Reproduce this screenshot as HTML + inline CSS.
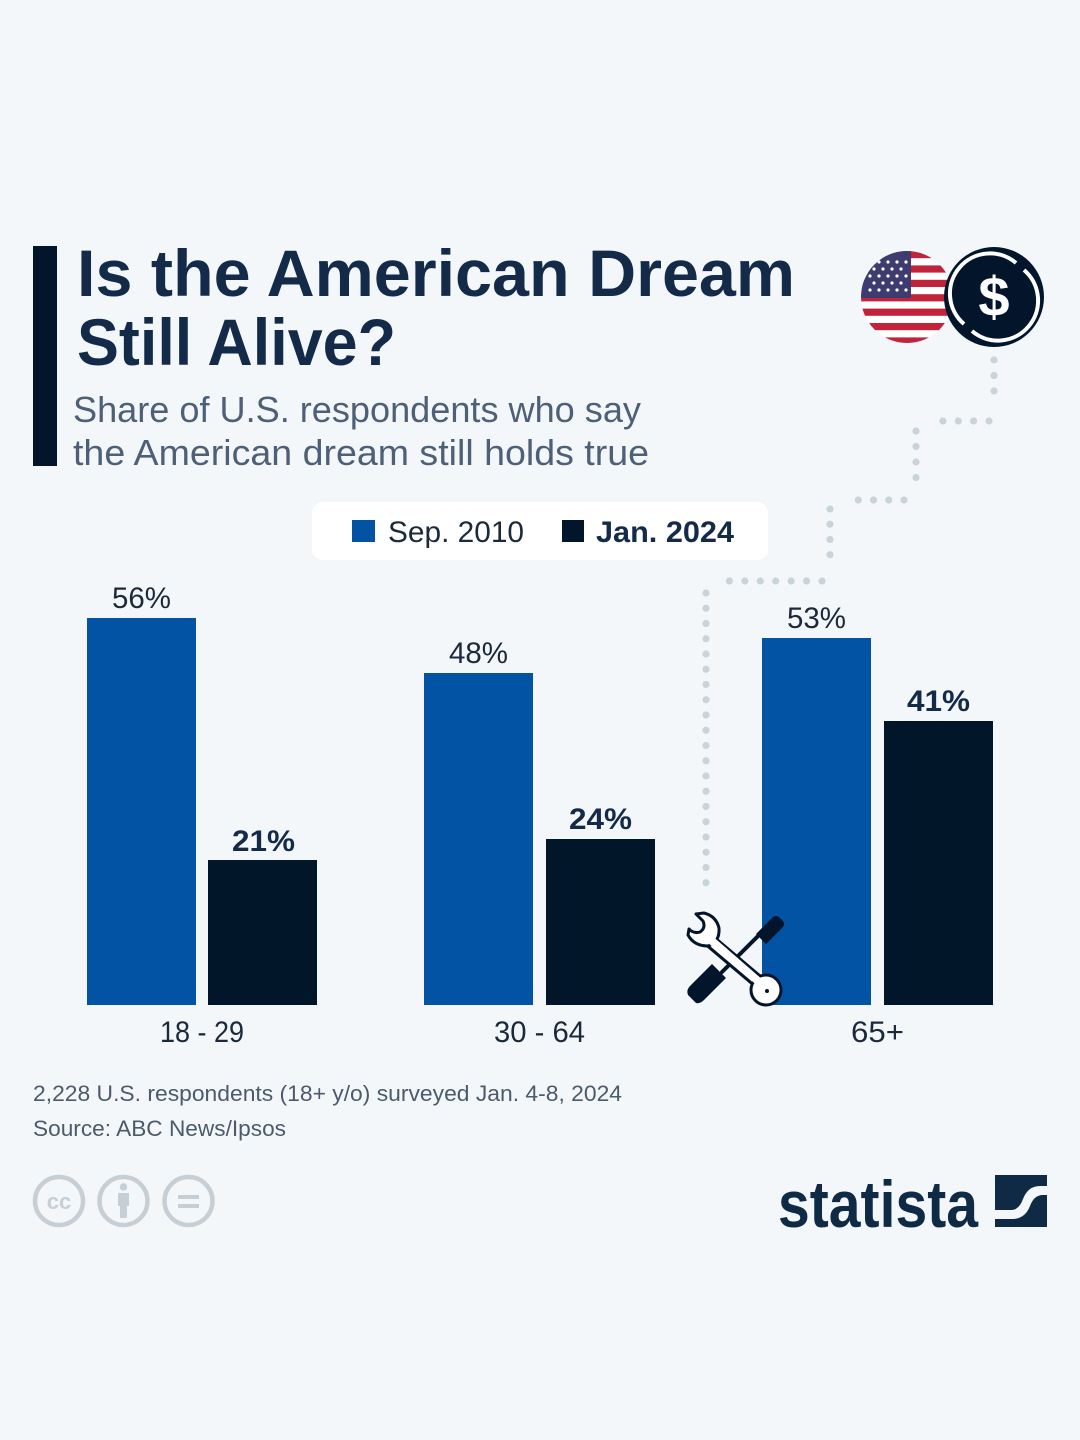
<!DOCTYPE html>
<html><head><meta charset="utf-8"><style>
html,body{margin:0;padding:0;background:#f4f7fa;}
svg{display:block;}
text{font-family:"Liberation Sans",sans-serif;}
</style></head><body>
<svg width="1080" height="1440" viewBox="0 0 1080 1440" xmlns="http://www.w3.org/2000/svg">
<rect width="1080" height="1440" fill="#f4f7fa"/>
<!-- title bar -->
<rect x="33" y="246" width="24" height="220" fill="#03152b"/>
<text x="77" y="296" font-size="66" font-weight="bold" fill="#132b48" textLength="718" lengthAdjust="spacingAndGlyphs">Is the American Dream</text>
<text x="77" y="365" font-size="66" font-weight="bold" fill="#132b48" textLength="319" lengthAdjust="spacingAndGlyphs">Still Alive?</text>
<text x="73" y="422" font-size="36" fill="#4d6077" textLength="568" lengthAdjust="spacingAndGlyphs">Share of U.S. respondents who say</text>
<text x="73" y="465" font-size="36" fill="#4d6077" textLength="576" lengthAdjust="spacingAndGlyphs">the American dream still holds true</text>

<!-- icons top right: flag -->
<defs>
<clipPath id="fc"><circle cx="907" cy="297" r="46"/></clipPath>
</defs>
<g clip-path="url(#fc)">
<rect x="860" y="250" width="100" height="95" fill="#ffffff"/>
<g fill="#c1243a">
<rect x="860" y="251" width="100" height="7.2"/>
<rect x="860" y="265.4" width="100" height="7.2"/>
<rect x="860" y="279.8" width="100" height="7.2"/>
<rect x="860" y="294.2" width="100" height="7.2"/>
<rect x="860" y="308.6" width="100" height="7.2"/>
<rect x="860" y="323" width="100" height="7.2"/>
<rect x="860" y="337.4" width="100" height="7.2"/>
</g>
<rect x="860" y="250" width="51" height="48" fill="#3d3b70"/>
<g fill="#ffffff">
<circle cx="870" cy="262" r="1.6"/><circle cx="879" cy="262" r="1.6"/><circle cx="888" cy="262" r="1.6"/><circle cx="897" cy="262" r="1.6"/><circle cx="906" cy="262" r="1.6"/>
<circle cx="874" cy="269" r="1.6"/><circle cx="883" cy="269" r="1.6"/><circle cx="892" cy="269" r="1.6"/><circle cx="901" cy="269" r="1.6"/>
<circle cx="870" cy="276" r="1.6"/><circle cx="879" cy="276" r="1.6"/><circle cx="888" cy="276" r="1.6"/><circle cx="897" cy="276" r="1.6"/><circle cx="906" cy="276" r="1.6"/>
<circle cx="874" cy="283" r="1.6"/><circle cx="883" cy="283" r="1.6"/><circle cx="892" cy="283" r="1.6"/><circle cx="901" cy="283" r="1.6"/>
<circle cx="870" cy="290" r="1.6"/><circle cx="879" cy="290" r="1.6"/><circle cx="888" cy="290" r="1.6"/><circle cx="897" cy="290" r="1.6"/><circle cx="906" cy="290" r="1.6"/>
</g>
</g>
<!-- dollar coin -->
<circle cx="994" cy="297" r="50" fill="#03152b"/>
<path d="M1024 270 A40 40 0 0 1 972 331" fill="none" stroke="#ffffff" stroke-width="4"/>
<path d="M964 324 A40 40 0 0 1 1016 263" fill="none" stroke="#ffffff" stroke-width="4"/>
<text x="994" y="316" font-size="56" font-weight="bold" fill="#ffffff" text-anchor="middle">$</text>

<!-- dotted path -->
<g fill="none" stroke="#c9d3da" stroke-width="7.2" stroke-linecap="round">
<path d="M994 360 V406.5" stroke-dasharray="0 15.5"/>
<path d="M989 421 H927.5" stroke-dasharray="0 15.375"/>
<path d="M916 431 V493" stroke-dasharray="0 15.5"/>
<path d="M904 500 H843" stroke-dasharray="0 15.25"/>
<path d="M830 509 V570" stroke-dasharray="0 15.25"/>
<path d="M822 581 H714" stroke-dasharray="0 15.43"/>
<path d="M706 593 V898" stroke-dasharray="0 15.25"/>
</g>

<!-- legend -->
<rect x="312" y="502" width="456" height="58" rx="11" fill="#ffffff"/>
<rect x="352" y="520" width="23" height="22" fill="#0353a4"/>
<text x="388" y="542" font-size="30" fill="#1b2a3a" textLength="136" lengthAdjust="spacingAndGlyphs">Sep. 2010</text>
<rect x="562" y="520" width="22" height="22" fill="#02162b"/>
<text x="596" y="542" font-size="30" font-weight="bold" fill="#132b48" textLength="138" lengthAdjust="spacingAndGlyphs">Jan. 2024</text>

<!-- bars -->
<rect x="87" y="618" width="109" height="387" fill="#0353a4"/>
<rect x="208" y="860" width="109" height="145" fill="#011628"/>
<rect x="424" y="673" width="109" height="332" fill="#0353a4"/>
<rect x="546" y="839" width="109" height="166" fill="#011628"/>
<rect x="762" y="638" width="109" height="367" fill="#0353a4"/>
<rect x="884" y="721" width="109" height="284" fill="#011628"/>

<!-- value labels -->
<g font-size="30" fill="#1b2a3a" text-anchor="middle">
<text x="141.5" y="608" textLength="59" lengthAdjust="spacingAndGlyphs">56%</text>
<text x="478.5" y="663" textLength="59" lengthAdjust="spacingAndGlyphs">48%</text>
<text x="816.5" y="628" textLength="59" lengthAdjust="spacingAndGlyphs">53%</text>
</g>
<g font-size="30" font-weight="bold" fill="#132b48" text-anchor="middle">
<text x="263.5" y="851" textLength="63" lengthAdjust="spacingAndGlyphs">21%</text>
<text x="600.5" y="829" textLength="63" lengthAdjust="spacingAndGlyphs">24%</text>
<text x="938.5" y="711" textLength="63" lengthAdjust="spacingAndGlyphs">41%</text>
</g>

<!-- category labels -->
<g font-size="30" fill="#1b2a3a" text-anchor="middle">
<text x="202" y="1042" textLength="84" lengthAdjust="spacingAndGlyphs">18 - 29</text>
<text x="539.5" y="1042" textLength="91" lengthAdjust="spacingAndGlyphs">30 - 64</text>
<text x="877.5" y="1042" textLength="53" lengthAdjust="spacingAndGlyphs">65+</text>
</g>

<!-- tools icon -->
<g stroke-linejoin="round" stroke-linecap="round">
<!-- screwdriver -->
<line x1="722" y1="972" x2="762" y2="932" stroke="#03152b" stroke-width="4"/>
<path d="M696 1003 L688 995 Q686 990 690 986 L712 964 L726 978 L704 1000 Q700 1004 696 1003 Z" fill="#03152b"/>
<path d="M756 934 L772 918 Q776 914 780 918 L782 920 Q786 924 782 928 L766 944 Z" fill="#03152b"/>
<!-- wrench -->
<line x1="709" y1="940" x2="761" y2="984" stroke="#03152b" stroke-width="14"/>
<line x1="709" y1="940" x2="761" y2="984" stroke="#ffffff" stroke-width="8"/>
<circle cx="766" cy="990" r="15" fill="#ffffff" stroke="#03152b" stroke-width="3"/>
<circle cx="767" cy="991" r="2" fill="#03152b"/>
<path d="M697 916 Q706 920 705 930 Q700 937 690 934 Q688 928 688 924 Q712 958 714 938 Q719 927 712 918 Q705 912 697 916 Z" fill="none"/>
<path d="M696 914 L703 921 Q706 928 700 932 Q694 934 689 929 L688 935 Q694 946 708 946 Q720 942 719 928 Q716 916 704 913 Z" fill="#ffffff" stroke="#03152b" stroke-width="3"/>
<line x1="712" y1="941" x2="758" y2="981" stroke="#ffffff" stroke-width="8" stroke-linecap="butt"/>
</g>

<!-- footer -->
<text x="33" y="1101" font-size="22" fill="#4b5b6b" textLength="589" lengthAdjust="spacingAndGlyphs">2,228 U.S. respondents (18+ y/o) surveyed Jan. 4-8, 2024</text>
<text x="33" y="1136" font-size="22" fill="#4b5b6b" textLength="253" lengthAdjust="spacingAndGlyphs">Source: ABC News/Ipsos</text>

<!-- cc icons -->
<g fill="none" stroke="#c6cfd6" stroke-width="4.5">
<circle cx="59" cy="1201" r="24"/>
<circle cx="123.5" cy="1201" r="24"/>
<circle cx="188.5" cy="1201" r="24"/>
</g>
<text x="59" y="1209" font-size="22" font-weight="bold" fill="#c6cfd6" text-anchor="middle">cc</text>
<circle cx="123.5" cy="1187" r="3.8" fill="#c6cfd6"/>
<rect x="118" y="1193" width="11" height="13" fill="#c6cfd6"/>
<rect x="120" y="1205" width="7" height="13" fill="#c6cfd6"/>
<rect x="178" y="1195" width="21" height="4" fill="#c6cfd6"/>
<rect x="178" y="1204" width="21" height="4" fill="#c6cfd6"/>

<!-- statista logo -->
<text x="778" y="1227" font-size="66" font-weight="bold" fill="#0f2a45" textLength="200" lengthAdjust="spacingAndGlyphs">statista</text>
<rect x="995" y="1175" width="52" height="52" fill="#0f2a45"/>
<path d="M995 1210 L1011 1210 Q1019 1210 1023 1199 Q1028 1186 1040 1186 L1047 1186 L1047 1195 L1043 1195 Q1034 1195 1030 1206 Q1025 1219 1012 1219 L995 1219 Z" fill="#f4f7fa"/>
</svg>
</body></html>
